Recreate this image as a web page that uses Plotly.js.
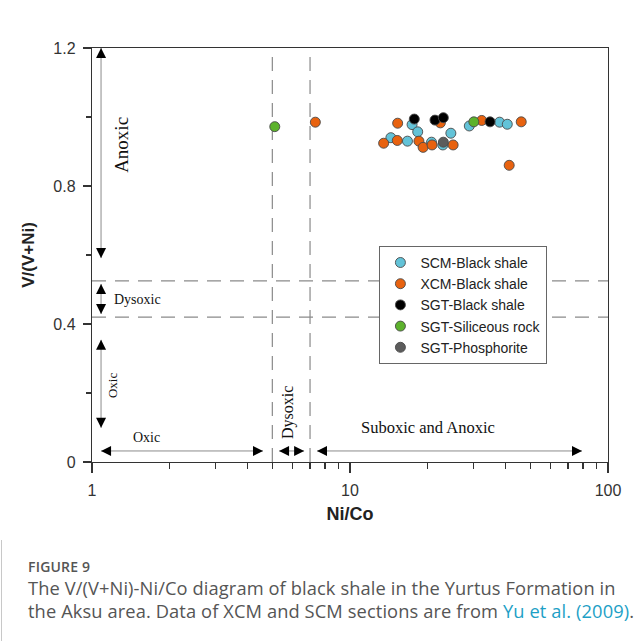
<!DOCTYPE html>
<html>
<head>
<meta charset="utf-8">
<script src="https://cdn.plot.ly/plotly-3.0.1.min.js"></script>
<style>
  html, body { margin: 0; padding: 0; background: #fff; }
  #wrap { position: relative; width: 639px; height: 641px; overflow: hidden; }
  #plot { position: absolute; left: 0; top: 0; width: 639px; height: 641px; }
  #edge { position: absolute; left: 1px; top: 540px; width: 1px; height: 101px; background: #c8c8c8; }
  #caption { position: absolute; left: 28px; top: 557px; font-family: "Open Sans", "Noto Sans", sans-serif; color: #555; white-space: nowrap; }
  #caption .fig { font-size: 14px; font-weight: 600; letter-spacing: 0.2px; line-height: 19px; }
  #caption .txt { font-size: 18.3px; letter-spacing: 0.1px; line-height: 23px; }
  #caption a { color: #1d9fc6; text-decoration: none; }
</style>
</head>
<body>
<div id="wrap">
  <div id="plot"></div>
  <div id="edge"></div>
  <div id="caption">
    <div class="fig">FIGURE 9</div>
    <div class="txt">The V/(V+Ni)-Ni/Co diagram of black shale in the Yurtus Formation in<br>the Aksu area. Data of XCM and SCM sections are from <a>Yu et al. (2009)</a>.</div>
  </div>
</div>
<script>
// ---- data ----
const seriesNames = ["SCM-Black shale", "XCM-Black shale", "SGT-Black shale", "SGT-Siliceous rock", "SGT-Phosphorite"];
const seriesColors = ["#63c3d8", "#e8620f", "#000000", "#5cb22c", "#5c5c5c"];

const scmNiCo = [17.4, 18.3, 24.6, 14.4, 16.7, 20.7, 22.9, 29.0, 38.0, 40.7];
const scmV    = [0.978, 0.957, 0.953, 0.940, 0.930, 0.927, 0.919, 0.974, 0.985, 0.979];

const xcmNiCo = [7.34, 15.3, 22.4, 13.5, 15.25, 18.5, 19.2, 20.8, 25.1, 32.4, 46.1, 41.4];
const xcmV    = [0.985, 0.982, 0.983, 0.924, 0.932, 0.930, 0.912, 0.919, 0.919, 0.990, 0.986, 0.860];

const sgtShaleNiCo = [17.75, 21.35, 23.0, 34.9];
const sgtShaleV    = [0.994, 0.991, 0.998, 0.986];

const sgtSiliceousNiCo = [5.11, 30.2];
const sgtSiliceousV    = [0.972, 0.986];

const sgtPhosNiCo = [23.0];
const sgtPhosV    = [0.927];

// threshold lines
const niCoThresholds = [5, 7];
const vThresholds = [0.42, 0.525];

// axis extents
const xRange = [1, 100];
const yRange = [0, 1.2];
const yTicks = [0, 0.4, 0.8, 1.2];
const yTickText = ["0", "0.4", "0.8", "1.2"];

// zone arrows: [x0, y0, x1, y1] in data units (heads at both ends)
const arrowX0 = 1.084;
const zoneArrows = [
  [arrowX0, 0.591, arrowX0, 1.2],     // Anoxic
  [arrowX0, 0.429, arrowX0, 0.516],   // Dysoxic
  [arrowX0, 0.099, arrowX0, 0.354],   // Oxic
  [1.084, 0.032, 4.60, 0.032],        // Oxic (Ni/Co)
  [5.31, 0.032, 6.64, 0.032],         // Dysoxic (Ni/Co)
  [7.45, 0.032, 79.3, 0.032]          // Suboxic and Anoxic
];
// zone labels: text, x, y, angle, anchor, size
const zoneLabels = [
  ["Anoxic", 1.306, 0.919, -90, "center", 19],
  ["Dysoxic", 1.195, 0.470, 0, "left", 14],
  ["Oxic", 1.195, 0.223, -90, "center", 13],
  ["Oxic", 1.62, 0.072, 0, "center", 14],
  ["Dysoxic", 5.75, 0.145, -90, "center", 16],
  ["Suboxic and Anoxic", 20.0, 0.099, 0, "center", 16.5]
];

// ---- build figure ----
const traces = [];
const dashStyle = {color: "#8a8a8a", width: 1.2, dash: "14px,9px"};
niCoThresholds.forEach(v => traces.push({x: [v, v], y: yRange, mode: "lines", line: dashStyle, showlegend: false, hoverinfo: "skip"}));
vThresholds.forEach(v => traces.push({x: xRange, y: [v, v], mode: "lines", line: dashStyle, showlegend: false, hoverinfo: "skip"}));
zoneArrows.forEach(a => traces.push({x: [a[0], a[2]], y: [a[1], a[3]], mode: "lines", line: {color: "#8c8c8c", width: 1}, showlegend: false, hoverinfo: "skip"}));

const xs = [scmNiCo, xcmNiCo, sgtShaleNiCo, sgtSiliceousNiCo, sgtPhosNiCo];
const ys = [scmV, xcmV, sgtShaleV, sgtSiliceousV, sgtPhosV];
seriesNames.forEach((n, i) => traces.push({
  x: xs[i], y: ys[i], name: n, mode: "markers", type: "scatter",
  marker: {color: seriesColors[i], size: 10, line: {color: "#4a4a4a", width: 0.9}}
}));

const annotations = [];
const HEAD = 9;
zoneArrows.forEach(a => {
  const vertical = a[0] === a[2];
  const ends = [[a[0], a[1], -1], [a[2], a[3], 1]];
  ends.forEach(e => {
    annotations.push({
      x: Math.log10(e[0]), y: e[1], xref: "x", yref: "y",
      ax: vertical ? 0 : -e[2] * HEAD, ay: vertical ? e[2] * HEAD : 0,
      showarrow: true, arrowhead: 2, arrowsize: 2, arrowwidth: 1, arrowcolor: "#000", standoff: 0, text: ""
    });
  });
});
zoneLabels.forEach(l => annotations.push({
  x: Math.log10(l[1]), y: l[2], xref: "x", yref: "y", text: l[0], showarrow: false,
  textangle: l[3], xanchor: l[4], yanchor: "middle",
  font: {family: "Liberation Serif, Times New Roman, serif", size: l[5], color: "#111"}
}));

const axisFont = {family: "Liberation Sans, Arial, sans-serif", size: 16, color: "#333"};
const layout = {
  width: 639, height: 641,
  margin: {l: 92, r: 31, t: 48, b: 179, pad: 0},
  paper_bgcolor: "#fff", plot_bgcolor: "#fff",
  showlegend: true,
  legend: {
    x: 0.557, y: 0.522, xanchor: "left", yanchor: "top",
    bgcolor: "#fff", bordercolor: "#666", borderwidth: 1,
    font: {family: "Liberation Sans, Arial, sans-serif", size: 14, color: "#222"},
    tracegroupgap: 0
  },
  xaxis: {
    type: "log", range: [Math.log10(xRange[0]), Math.log10(xRange[1])], dtick: 1,
    showline: true, linecolor: "#333", linewidth: 1.2, mirror: true,
    ticks: "outside", ticklen: 10, tickcolor: "#333", tickwidth: 1.2,
    minor: {dtick: "D1", ticks: "outside", ticklen: 6, tickcolor: "#333", tickwidth: 1.2, showgrid: false},
    showgrid: false, zeroline: false, tickfont: axisFont, ticklabelstandoff: 4,
    title: {text: "<b>Ni/Co</b>", font: {family: "Liberation Sans, Arial, sans-serif", size: 18, color: "#222"}, standoff: 9}
  },
  yaxis: {
    range: yRange, tickvals: yTicks, ticktext: yTickText,
    showline: true, linecolor: "#333", linewidth: 1.2, mirror: true,
    ticks: "outside", ticklen: 8, tickcolor: "#333", tickwidth: 1.2,
    minor: {dtick: 0.2, ticks: "outside", ticklen: 5, tickcolor: "#333", tickwidth: 1.2, showgrid: false},
    showgrid: false, zeroline: false, tickfont: axisFont, ticklabelstandoff: 4,
    title: {text: "<b>V/(V+Ni)</b>", font: {family: "Liberation Sans, Arial, sans-serif", size: 17, color: "#222"}, standoff: 14}
  },
  annotations: annotations
};

Plotly.newPlot("plot", traces, layout, {displayModeBar: false, staticPlot: true});
</script>
</body>
</html>
